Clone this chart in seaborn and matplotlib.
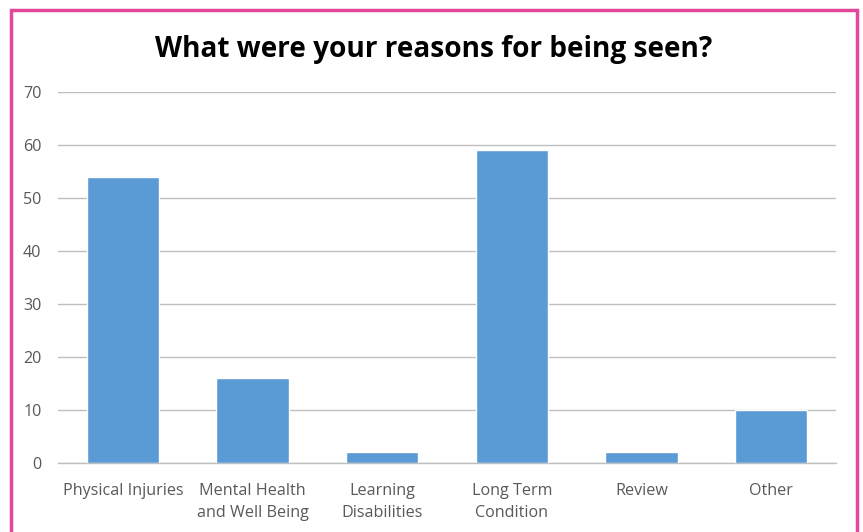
import matplotlib
matplotlib.use("Agg")
import matplotlib.pyplot as plt
from matplotlib.patches import Rectangle
import seaborn as sns
import pandas as pd

categories = ["Physical Injuries", "Mental Health\nand Well Being", "Learning\nDisabilities",
              "Long Term\nCondition", "Review", "Other"]
counts = [54, 16, 2, 59, 2, 10]
y_ticks = [0, 10, 20, 30, 40, 50, 60, 70]

sns.set_theme(style="white")
plt.rcParams["font.family"] = ["Open Sans", "DejaVu Sans"]

df = pd.DataFrame({"reason": categories, "count": counts})

fig = plt.figure(figsize=(8.63, 5.32), dpi=100)
ax = fig.add_axes([0.0672, 0.1297, 0.9015, 0.6973])

sns.barplot(data=df, x="reason", y="count", color="#5B9BD5", saturation=1,
            width=0.56, ax=ax, zorder=3)

ax.set_ylim(0, 70)
ax.set_yticks(y_ticks)
ax.set_xlim(-0.5, len(categories) - 0.5)
ax.yaxis.grid(True, color="#BFBFBF", linewidth=1, zorder=0)
ax.set_axisbelow(True)
for side in ["left", "right", "top"]:
    ax.spines[side].set_visible(False)
ax.spines["bottom"].set_color("#BFBFBF")
ax.spines["bottom"].set_linewidth(1)
ax.tick_params(axis="both", length=0, colors="#595959", labelsize=11.6)
ax.tick_params(axis="x", pad=14.5)
ax.tick_params(axis="y", pad=12)
for lbl in ax.get_xticklabels():
    lbl.set_linespacing(1.45)
ax.set_xlabel("")
ax.set_ylabel("")

fig.text(0.502, 0.907, "What were your reasons for being seen?", ha="center", va="center",
         fontsize=20.2, fontweight="bold", color="black")

# pink frame around the chart
fig.patches.append(Rectangle((11 / 863, -0.05), (857 - 11) / 863, (522 / 532) + 0.05,
                             transform=fig.transFigure, fill=False,
                             edgecolor="#E2479B", linewidth=2.5, zorder=10))

fig.savefig("out.png", dpi=100)
